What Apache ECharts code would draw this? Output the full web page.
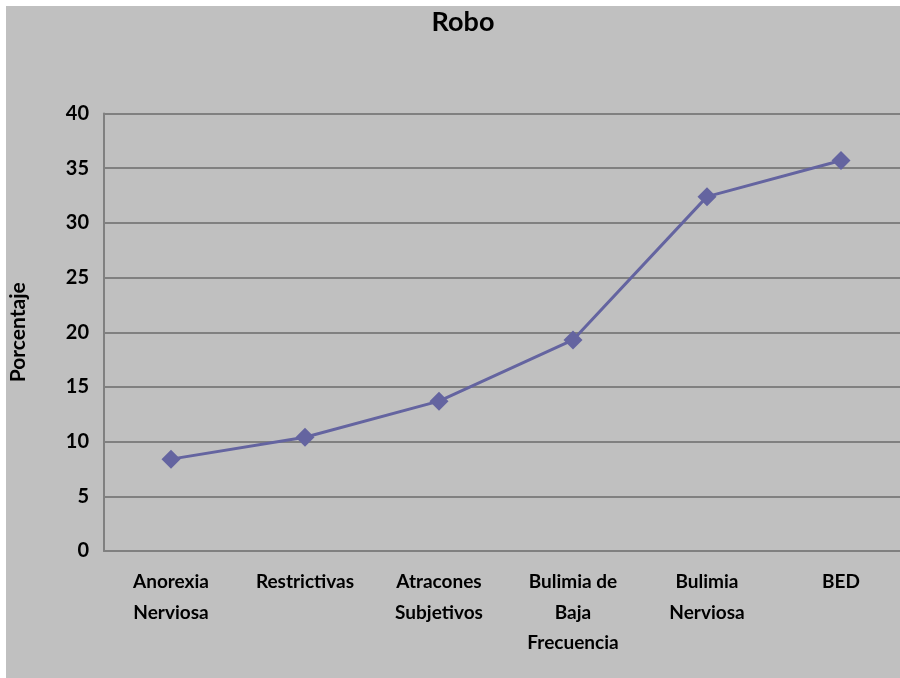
<!DOCTYPE html>
<html>
<head>
<meta charset="utf-8">
<script src="https://cdn.jsdelivr.net/npm/echarts@6/dist/echarts.min.js"></script>
<style>
html,body{margin:0;padding:0;background:#fff;overflow:hidden;width:900px;height:678px;}
#wrap{position:absolute;left:6px;top:6px;width:894px;height:672px;background:#c0c0c0;}
#c{width:920px;height:678px;position:absolute;left:0;top:0;}
</style>
</head>
<body>
<div id="wrap"></div>
<div id="c"></div>
<script>
const categories = ['Anorexia\nNerviosa', 'Restrictivas', 'Atracones\nSubjetivos', 'Bulimia de\nBaja\nFrecuencia', 'Bulimia\nNerviosa', 'BED'];
const values = [8.4, 10.4, 13.7, 19.3, 32.4, 35.7];
const yTicks = [0, 5, 10, 15, 20, 25, 30, 35, 40];

const font = 'Lato, "Open Sans", sans-serif';
const chart = echarts.init(document.getElementById('c'));
chart.setOption({
  backgroundColor: 'transparent',
  title: {
    text: 'Robo', left: 458, top: 4, textAlign: 'center',
    textStyle: {fontFamily: font, fontWeight: 'bold', fontSize: 27, color: '#000'}
  },
  grid: {left: 104, right: 12, top: 113.5, bottom: 127, outerBoundsMode: 'none', containLabel: false},
  xAxis: {
    type: 'category', data: categories, boundaryGap: true,
    axisLine: {lineStyle: {color: '#808080', width: 2}},
    axisTick: {show: false},
    axisLabel: {fontFamily: font, fontWeight: 'bold', fontSize: 19, color: '#000', lineHeight: 30.5, margin: 16, interval: 0}
  },
  yAxis: {
    type: 'value', min: yTicks[0], max: yTicks[yTicks.length - 1], interval: 5,
    name: 'Porcentaje', nameLocation: 'middle', nameGap: 75, nameRotate: 90,
    nameTextStyle: {fontFamily: font, fontWeight: 'bold', fontSize: 21, color: '#000'},
    axisLine: {show: true, lineStyle: {color: '#808080', width: 2}},
    axisTick: {show: false},
    splitLine: {lineStyle: {color: '#808080', width: 2}},
    axisLabel: {fontFamily: font, fontWeight: 'bold', fontSize: 20, color: '#000', margin: 15}
  },
  series: [{
    type: 'line', data: values,
    symbol: 'diamond', symbolSize: 19,
    lineStyle: {color: '#6464a0', width: 3},
    itemStyle: {color: '#6464a0'},
    animation: false
  }]
});
</script>
</body>
</html>
